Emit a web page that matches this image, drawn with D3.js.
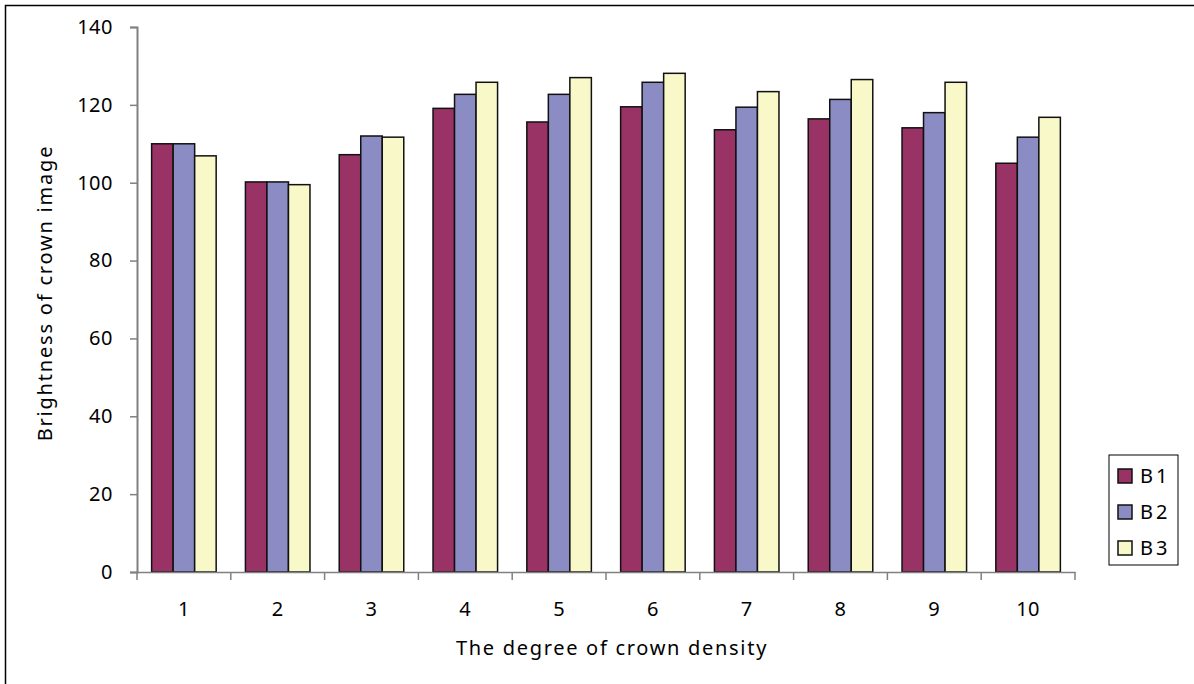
<!DOCTYPE html>
<html><head><meta charset="utf-8">
<script src="https://cdn.jsdelivr.net/npm/d3@7"></script>
<style>body{margin:0;background:#fff}svg{display:block}text{font-family:"Noto Sans",sans-serif;fill:#000}</style>
</head><body>
<svg id="c" width="1194" height="684"></svg>
<script>
const categories = ["1","2","3","4","5","6","7","8","9","10"];
const seriesNames = ["B1","B2","B3"];
const B1 = [110, 100.2, 107.2, 119.1, 115.6, 119.5, 113.6, 116.4, 114.1, 105];
const B2 = [110, 100.2, 112, 122.7, 122.7, 125.8, 119.4, 121.4, 118, 111.7];
const B3 = [106.9, 99.5, 111.7, 125.8, 127, 128.1, 123.4, 126.5, 125.8, 116.8];
const yTicks = [0,20,40,60,80,100,120,140];
const colors = ["#993366","#8b8cc4","#f8f8c8"];

const svg = d3.select("#c");
svg.append("rect").attr("x",5.5).attr("y",5.5).attr("width",1300).attr("height",800)
  .attr("fill","none").attr("stroke","#000").attr("stroke-width",1.5);

const pLeft=137, pRight=1075, pTop=27, pBottom=572;
const x = d3.scaleBand().domain(categories).range([pLeft,pRight]).paddingInner(0).paddingOuter(0);
const inner = d3.scaleBand().domain(seriesNames).range([0,x.bandwidth()]).paddingInner(0).paddingOuter(0.68);
const y = d3.scaleLinear().domain([0,140]).range([pBottom,pTop]);

const data = [B1,B2,B3];
seriesNames.forEach((s,si)=>{
  svg.append("g").selectAll("rect").data(categories).join("rect")
    .attr("x",(c)=>x(c)+inner(s))
    .attr("y",(c,i)=>y(data[si][i]))
    .attr("width",inner.bandwidth())
    .attr("height",(c,i)=>y(0)-y(data[si][i]))
    .attr("fill",colors[si]).attr("stroke","#111").attr("stroke-width",1.5);
});

// y axis
const ya = svg.append("g").attr("transform",`translate(${pLeft},0)`)
  .call(d3.axisLeft(y).tickValues(yTicks).tickSize(7).tickPadding(17));
ya.select(".domain").attr("stroke","#808080").attr("stroke-width",2);
ya.selectAll(".tick line").attr("stroke","#808080").attr("stroke-width",1.5);
ya.selectAll("text").style("font-size","20px").style("font-family","Noto Sans").style("letter-spacing","0.5px");

// x axis
const xa = svg.append("g").attr("transform",`translate(0,${pBottom})`)
  .call(d3.axisBottom(x).tickSize(0).tickPadding(30));
xa.select(".domain").attr("stroke","#808080").attr("stroke-width",1.5);
xa.selectAll("text").style("font-size","20px").style("font-family","Noto Sans").style("letter-spacing","0.5px");
const bounds = categories.map(c=>x(c)).concat([pRight]);
svg.append("g").selectAll("line").data(bounds).join("line")
  .attr("x1",d=>d).attr("x2",d=>d).attr("y1",pBottom).attr("y2",pBottom+8)
  .attr("stroke","#808080").attr("stroke-width",1.5);

svg.append("text").attr("x",612).attr("y",655).attr("text-anchor","middle")
  .style("font-size","20px").style("letter-spacing","1.7px").text("The degree of crown density");
svg.append("text").attr("transform","translate(52,293) rotate(-90)").attr("text-anchor","middle")
  .style("font-size","20px").style("letter-spacing","1.8px").text("Brightness of crown image");

// legend
const lg = svg.append("g");
lg.append("rect").attr("x",1109).attr("y",455).attr("width",69).attr("height",110)
  .attr("fill","#fff").attr("stroke","#000").attr("stroke-width",1);
seriesNames.forEach((s,i)=>{
  const cy = 476 + i*36;
  lg.append("rect").attr("x",1118).attr("y",cy-7).attr("width",14).attr("height",14)
    .attr("fill",colors[i]).attr("stroke","#111").attr("stroke-width",1.5);
  lg.append("text").attr("x",1140).attr("y",cy+7).style("font-size","20px")
    .style("letter-spacing","3px").text(s);
});
</script>
</body></html>
